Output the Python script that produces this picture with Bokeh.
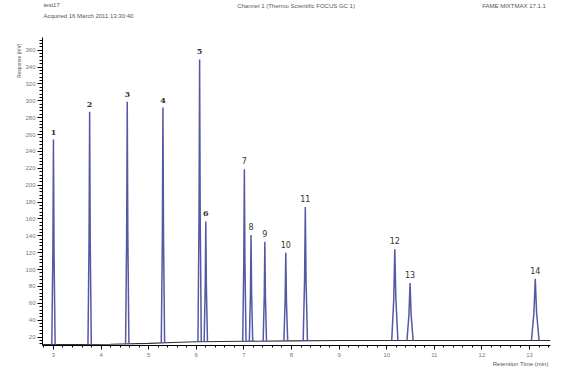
import numpy as np
from bokeh.plotting import figure
from bokeh.layouts import column
from bokeh.models import SingleIntervalTicker, Range1d, Title
from bokeh.core.properties import value
from bokeh.embed import file_html
from bokeh.resources import INLINE

# ---- data ----
peak_ids = ["1", "2", "3", "4", "5", "6", "7", "8", "9", "10", "11", "12", "13", "14"]
peak_times = [3.00, 3.76, 4.55, 5.30, 6.07, 6.20, 7.01, 7.15, 7.44, 7.88, 8.29, 10.17, 10.49, 13.12]
peak_heights = [254, 287, 299, 292, 349, 157, 219, 141, 133, 120, 174, 124, 84, 89]
peak_halfwidths = [0.035, 0.035, 0.035, 0.035, 0.035, 0.035, 0.035, 0.035, 0.035, 0.04, 0.045, 0.065, 0.065, 0.08]

baseline_t = [2.77, 4.2, 5.0, 5.5, 6.0, 7.0, 8.0, 9.0, 10.0, 11.0, 12.0, 13.44]
baseline_v = [11.0, 11.5, 12.5, 13.5, 14.5, 15.0, 15.5, 16.0, 16.0, 16.0, 16.0, 16.0]

header_left = ["test17", "Acquired 16 March 2011 13:30:40"]
header_center = "Channel 1 (Thermo Scientific FOCUS GC 1)"
header_right = "FAME MIXTMAX 17.1.1"
y_title = "Response (mV)"
x_title = "Retention Time (min)"

W = 562
HH = 22
HM = 351
HDR_X0 = 13  # the layout gives the header strip a 13px left border

# ---- header strip ----
hdr = figure(width=W, height=HH, output_backend="svg", toolbar_location=None,
             x_range=Range1d(HDR_X0, W), y_range=Range1d(HH, 0),
             x_axis_type=None, y_axis_type=None, title=None,
             min_border=0, min_border_left=0, min_border_right=0,
             min_border_top=0, min_border_bottom=0)
hdr.outline_line_color = None
hdr.xgrid.visible = False
hdr.ygrid.visible = False
hstyle = dict(text_font=value("Liberation Sans"), text_font_size="6px",
              text_color="#555555", text_baseline="middle")
hdr.text([14, 14], [4.5, 15.5], text=header_left, text_align="left", **hstyle)
hdr.text([287], [5], text=[header_center], text_align="center", **hstyle)
hdr.text([557], [5], text=[header_right], text_align="right", **hstyle)

# ---- main chromatogram ----
p = figure(width=W, height=HM, output_backend="svg", toolbar_location=None,
           x_range=Range1d(2.77, 13.44), y_range=Range1d(10, 375),
           min_border_left=42, min_border_right=12, min_border_top=15, min_border_bottom=28)
p.outline_line_color = None
p.xgrid.visible = False
p.ygrid.visible = False
p.background_fill_color = "white"

for ax in (p.xaxis[0], p.yaxis[0]):
    ax.axis_line_color = "black"
    ax.major_tick_line_color = "black"
    ax.minor_tick_line_color = "black"
    ax.major_tick_in = 0
    ax.minor_tick_in = 0
    ax.major_label_text_font = "Liberation Sans"
    ax.major_label_text_font_size = "6px"
    ax.major_label_text_color = "#777777"

p.yaxis[0].ticker = SingleIntervalTicker(interval=20, num_minor_ticks=5)
p.xaxis[0].ticker = SingleIntervalTicker(interval=1, num_minor_ticks=5)
p.yaxis[0].major_tick_out = 5
p.yaxis[0].minor_tick_out = 3
p.yaxis[0].major_label_standoff = 2
p.xaxis[0].major_tick_out = 4
p.xaxis[0].minor_tick_out = 2
p.xaxis[0].major_label_standoff = 3

p.add_layout(Title(text=y_title, align="right", offset=6, standoff=2,
                   text_font="Liberation Sans", text_font_size="5px",
                   text_color="#555555", text_font_style="normal"), "left")
p.add_layout(Title(text=x_title, align="right", offset=2, standoff=-2,
                   text_font="Liberation Sans", text_font_size="6px",
                   text_color="#555555", text_font_style="normal"), "below")

# baseline
p.line(baseline_t, baseline_v, line_color="#2e2e45", line_width=1.1)

# peaks
trace_color = "#5558a3"
for t, h, w in zip(peak_times, peak_heights, peak_halfwidths):
    b = float(np.interp(t, baseline_t, baseline_v))
    p.line([t - w, t - w * 0.35, t, t + w * 0.35, t + w],
           [b, b + (h - b) * 0.45, h, b + (h - b) * 0.45, b],
           line_color=trace_color, line_width=1.5)

# peak labels
p.text(peak_times[:6], peak_heights[:6], text=peak_ids[:6], text_align="center",
       text_baseline="bottom", y_offset=-5, text_font=value("DejaVu Serif"),
       text_font_size="8px", text_color="#333333", text_font_style="bold")
p.text(peak_times[6:], peak_heights[6:], text=peak_ids[6:], text_align="center",
       text_baseline="bottom", y_offset=-5, text_font=value("DejaVu Sans"),
       text_font_size="8px", text_color="#333333")

layout = column(hdr, p, spacing=0)
open("out.html", "w").write(file_html(layout, INLINE))
